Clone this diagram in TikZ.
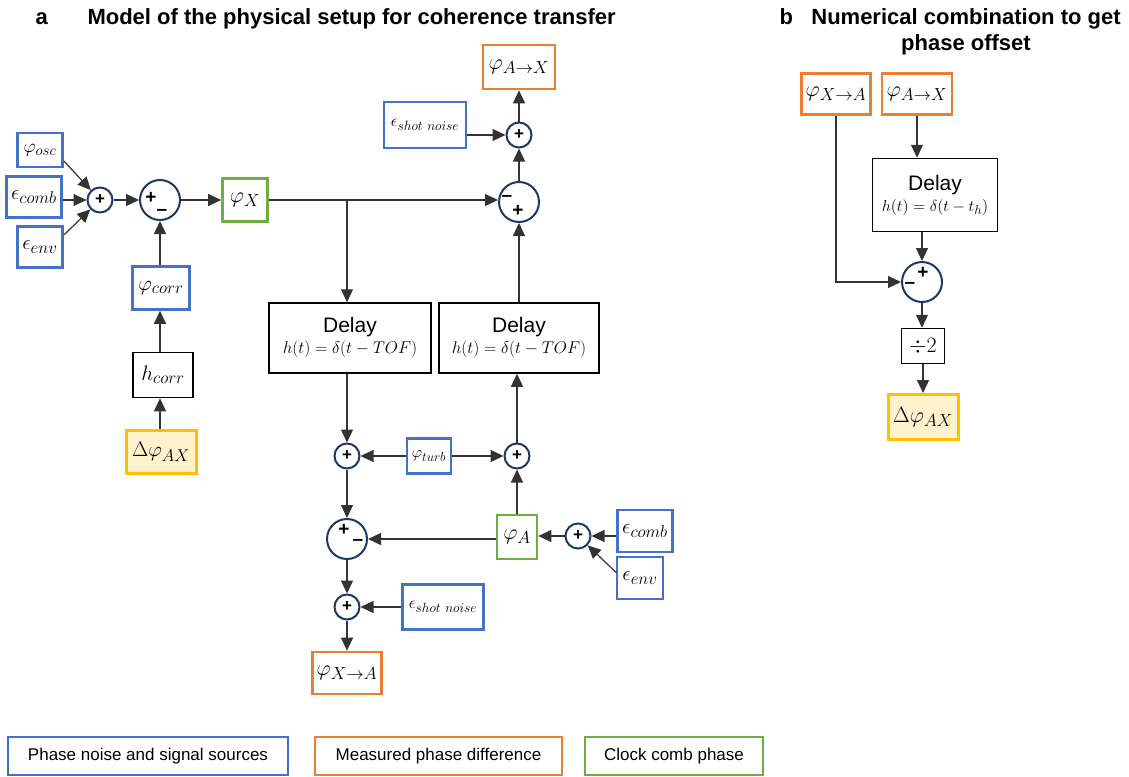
\RequirePackage{fix-cm}
\documentclass[tikz,border=0pt]{standalone}
\usepackage[no-math]{fontspec}
\setmainfont{Liberation Sans}
\usetikzlibrary{arrows.meta,calc}
\DeclareMathSizes{22}{22}{17.5}{13}
\DeclareMathSizes{21}{21}{17}{12.5}
\DeclareMathSizes{20}{20}{16}{12}
\DeclareMathSizes{19}{19}{15}{11}
\DeclareMathSizes{18}{18}{14.5}{10.5}
\DeclareMathSizes{17}{17}{13.5}{10}
\DeclareMathSizes{16}{16}{13}{9.5}
\definecolor{cblue}{HTML}{4472C4}
\definecolor{corange}{HTML}{ED7D31}
\definecolor{cgreen}{HTML}{70AD47}
\definecolor{cgold}{HTML}{FFC000}
\definecolor{cyel}{HTML}{FFF2CC}
\definecolor{cnavy}{HTML}{1F3864}
\definecolor{cline}{HTML}{333333}
\newcommand\myfs[1]{\fontsize{#1}{#1}\selectfont}
\tikzset{
  srcbox/.style={draw=cblue, line width=2.7pt, fill=white, inner sep=0pt},
  meabox/.style={draw=corange, line width=2.7pt, fill=white, inner sep=0pt},
  clkbox/.style={draw=cgreen, line width=2.7pt, fill=white, inner sep=0pt},
  resbox/.style={draw=cgold, line width=3pt, fill=cyel, inner sep=0pt},
  blkbox/.style={draw=black, line width=1.5pt, fill=white, inner sep=0pt, align=center},
  sumc/.style={circle, draw=cnavy, line width=2pt, fill=white, minimum size=25pt, inner sep=0pt, font=\bfseries\myfs{17}},
  bigsum/.style={circle, draw=cnavy, line width=2pt, fill=white, minimum size=40pt, inner sep=0pt},
  sgn/.style={inner sep=0pt, font=\bfseries\myfs{19}},
  arr/.style={draw=cline, line width=1.2pt, -{Triangle[length=13pt,width=12pt]}},
  ttl/.style={font=\bfseries\myfs{22}},
  dly/.style={font=\fontsize{17}{21}\selectfont}
}
\begin{document}
\begin{tikzpicture}[x=1pt,y=-1pt]
\useasboundingbox (0,0) rectangle (1129,776);

% titles
\node[ttl, anchor=base west] (ta) at (32,25) {a};
\node[ttl, anchor=base west] (tat) at (84,25) {Model of the physical setup for coherence transfer};
\node[ttl, anchor=base west] (tb) at (776,25) {b};
\node[ttl, anchor=base] (tbt1) at (966,25) {Numerical combination to get};
\node[ttl, anchor=base] (tbt2) at (966,51) {phase offset};

% left cluster
\node[srcbox, minimum width=45pt, minimum height=34pt, font=\myfs{19}] (osc) at (40,150) {$\varphi_{osc}$};
\node[srcbox, minimum width=55pt, minimum height=41pt, font=\myfs{21}] (comb) at (34,197) {$\epsilon_{comb}$};
\node[srcbox, minimum width=45pt, minimum height=41pt, font=\myfs{21}] (env) at (40,247) {$\epsilon_{env}$};
\node[sumc] (s1) at (100,200) {+};
\node[bigsum] (s2) at (160,200) {};
\node[sgn] (s2p) at ($(s2)+(-9,-2)$) {+};
\node[sgn] (s2m) at ($(s2)+(2,12)$) {–};
\node[clkbox, minimum width=45pt, minimum height=43pt, font=\myfs{22}] (phiX) at (245,200) {$\varphi_X$};
\node[srcbox, minimum width=57pt, minimum height=43pt, font=\myfs{21}] (corr) at (161,288) {$\varphi_{corr}$};
\node[blkbox, minimum width=60pt, minimum height=45pt, font=\myfs{21}] (hcorr) at (163,375) {$h_{corr}$};
\node[resbox, minimum width=70pt, minimum height=43pt, font=\myfs{21}] (dphi) at (161,452) {$\Delta\varphi_{AX}$};

% top right
\node[meabox, minimum width=72pt, minimum height=44pt, font=\myfs{22}] (phiAX) at (519,67) {$\varphi_{A\to X}$};
\node[srcbox, minimum width=82pt, minimum height=46pt, font=\myfs{17}] (shot1) at (425,125) {$\epsilon_{shot\ noise}$};
\node[sumc] (s3) at (519,135) {+};
\node[bigsum] (s4) at (519,202) {};
\node[sgn] (s4m) at ($(s4)+(-12,-4)$) {–};
\node[sgn] (s4p) at ($(s4)+(-1,9)$) {+};

% delays
\node[blkbox, dly, minimum width=162pt, minimum height=70pt] (d1) at (350,338) {{\fontsize{21}{21}\selectfont Delay}\\$h(t)=\delta(t-TOF)$};
\node[blkbox, dly, minimum width=160pt, minimum height=70pt] (d2) at (519,338) {{\fontsize{21}{21}\selectfont Delay}\\$h(t)=\delta(t-TOF)$};

% middle
\node[sumc] (s5) at (347,456) {+};
\node[srcbox, minimum width=44pt, minimum height=35pt, font=\myfs{16}] (turb) at (429,456) {$\varphi_{turb}$};
\node[sumc] (s6) at (517,456) {+};

% bottom
\node[bigsum] (s7) at (347,539) {};
\node[sgn] (s7p) at ($(s7)+(-3,-9)$) {+};
\node[sgn] (s7m) at ($(s7)+(11,3)$) {–};
\node[clkbox, minimum width=40pt, minimum height=44pt, font=\myfs{22}] (phiA) at (517,537) {$\varphi_A$};
\node[sumc] (s8) at (578,536) {+};
\node[srcbox, minimum width=55pt, minimum height=42pt, font=\myfs{21}] (comb2) at (645,531) {$\epsilon_{comb}$};
\node[srcbox, minimum width=46pt, minimum height=42pt, font=\myfs{21}] (env2) at (640,578) {$\epsilon_{env}$};
\node[sumc] (s9) at (347,607) {+};
\node[srcbox, minimum width=81pt, minimum height=45pt, font=\myfs{17}] (shot2) at (443,607) {$\epsilon_{shot\ noise}$};
\node[meabox, minimum width=69pt, minimum height=42pt, font=\myfs{22}] (phiXA) at (347,673) {$\varphi_{X\to A}$};

% panel b
\node[meabox, minimum width=69pt, minimum height=41pt, font=\myfs{22}] (phiXA2) at (836,94) {$\varphi_{X\to A}$};
\node[meabox, minimum width=70pt, minimum height=41pt, font=\myfs{22}] (phiAX2) at (917,94) {$\varphi_{A\to X}$};
\node[blkbox, font=\fontsize{16}{21}\selectfont, minimum width=125pt, minimum height=73pt] (d3) at (935,195) {{\fontsize{21}{21}\selectfont Delay}\\$h(t)=\delta(t-t_h)$};
\node[bigsum] (s10) at (922,282) {};
\node[sgn] (s10p) at ($(s10)+(1,-9)$) {+};
\node[sgn] (s10m) at ($(s10)+(-12,3)$) {–};
\node[blkbox, minimum width=43pt, minimum height=35pt, font=\myfs{22}] (div) at (923,346) {$\div 2$};
\node[resbox, minimum width=70pt, minimum height=45pt, font=\myfs{22}] (dphi2) at (923,417) {$\Delta\varphi_{AX}$};

% legend
\node[srcbox, minimum width=280pt, minimum height=38pt, font=\myfs{17}] (lg1) at (148,756) {Phase noise and signal sources};
\node[meabox, minimum width=247pt, minimum height=38pt, font=\myfs{17}] (lg2) at (438.5,756) {Measured phase difference};
\node[clkbox, minimum width=178pt, minimum height=38pt, font=\myfs{17}] (lg3) at (674,756) {Clock comb phase};

% connectors left
\draw[arr] ($(osc.east)+(0,11)$) -- (s1);
\draw[arr] (comb.east |- s1) -- (s1);
\draw[arr] ($(env.east)+(0,-12)$) -- (s1);
\draw[arr] (s1) -- (s2);
\draw[arr] (s2) -- (phiX);
\draw[arr] (corr.north -| s2) -- (s2);
\draw[arr] (hcorr.north -| s2) -- (corr.south -| s2);
\draw[arr] (dphi.north -| s2) -- (hcorr.south -| s2);

% top connectors
\coordinate (br) at (phiX.east -| s5);
\draw[arr] (phiX.east) -- (phiX.east -| s4.west);
\draw[arr] (br) -- (d1.north -| s5);
\draw[arr] (s4) -- (s3);
\draw[arr] (shot1.east |- s3) -- (s3);
\draw[arr] (s3) -- (phiAX);
\draw[arr] (d2.north -| s4) -- (s4);

% middle connectors
\draw[arr] (d1.south -| s5) -- (s5);
\draw[arr] (turb) -- (s5);
\draw[arr] (turb) -- (s6);
\draw[arr] (s6) -- (s6 |- d2.south);
\draw[arr] (phiA) -- (s6);
\draw[arr] (s5) -- (s7);
\draw[arr] (phiA.west |- s7) -- (s7);
\draw[arr] (s8) -- (phiA.east |- s8);
\draw[arr] (comb2.west |- s8) -- (s8);
\draw[arr] ($(env2.west)+(1,-5)$) -- (s8);
\draw[arr] (s7) -- (s9);
\draw[arr] (shot2) -- (s9);
\draw[arr] (s9) -- (phiXA);

% panel b connectors
\draw[arr] (phiAX2.south) -- (phiAX2.south |- d3.north);
\draw[arr] (phiXA2.south) |- (s10);
\draw[arr] (d3.south -| s10) -- (s10);
\draw[arr] (s10) -- (s10 |- div.north);
\draw[arr] (div) -- (dphi2);
\end{tikzpicture}
\end{document}
